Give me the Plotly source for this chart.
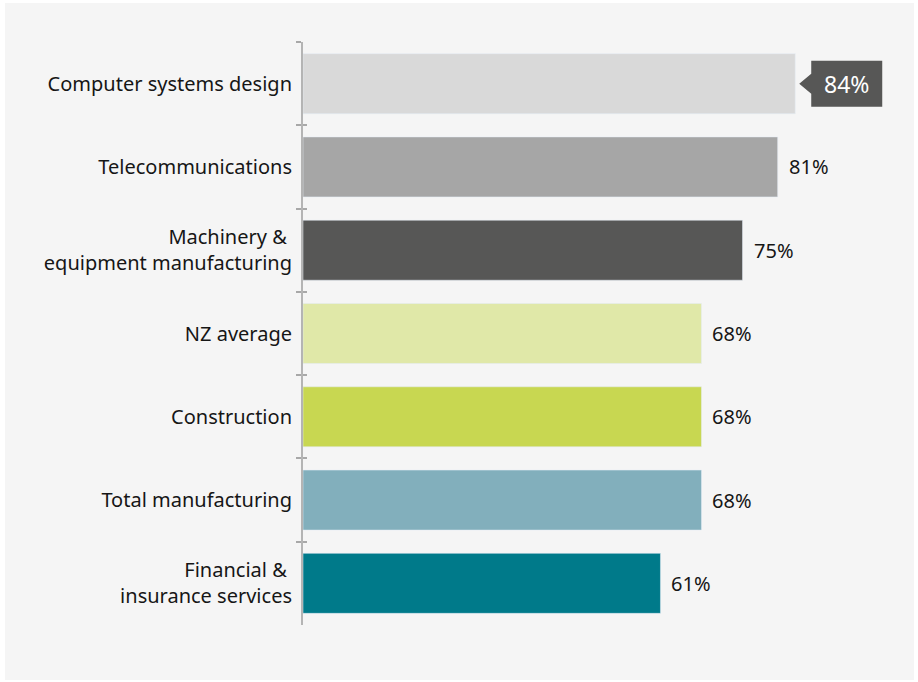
import plotly.graph_objects as go

categories = ["Computer systems design", "Telecommunications",
              "Machinery &\u00a0<br>equipment manufacturing", "NZ average",
              "Construction", "Total manufacturing",
              "Financial &\u00a0<br>insurance services"]
values = [84, 81, 75, 68, 68, 68, 61]
labels = ["84%", "81%", "75%", "68%", "68%", "68%", "61%"]
colors = ["#d9d9d9", "#a6a6a6", "#575756", "#e0e8a8", "#c8d751", "#82afbc", "#007a8a"]

W, H = 918, 682
L, R, T, B = 303, 29, 42, 57
pw, ph = W - L - R, H - T - B

fig = go.Figure()
fig.add_trace(go.Bar(y=categories, x=values, orientation="h",
                     marker=dict(color=colors, line=dict(width=0)),
                     hoverinfo="skip", showlegend=False))
# invisible trace on overlay axis to draw the inside half of the ticks
fig.add_trace(go.Bar(y=categories, x=values, orientation="h", yaxis="y2",
                     marker=dict(color="rgba(0,0,0,0)"), hoverinfo="skip",
                     showlegend=False))

font_main = "Noto Sans, Open Sans, sans-serif"

# value labels
for i, (c, v, t) in enumerate(zip(categories, values, labels)):
    if i == 0:
        continue
    fig.add_annotation(x=v, y=c, text=t, showarrow=False, xanchor="left",
                       xshift=9, font=dict(size=20, color="#161616", family=font_main))

# callout for the top bar
c0, v0 = categories[0], values[0]
fig.add_shape(type="path", xref="x", yref="y", xsizemode="pixel", ysizemode="pixel",
              xanchor=v0, yanchor=c0,
              path="M 4 0 L 16 10 L 16 23 L 87 23 L 87 -23 L 16 -23 L 16 -10 Z",
              fillcolor="#575756", line=dict(width=0), layer="above")
fig.add_annotation(x=v0, y=c0, text=labels[0], showarrow=False, xanchor="center",
                   xshift=51, font=dict(size=23, color="#ffffff", family=font_main))

# background panel
fig.add_shape(type="rect", xref="paper", yref="paper", layer="below",
              x0=(5 - L) / pw, x1=(914 - L) / pw,
              y0=(H - B - 680) / ph, y1=(H - B - 3) / ph,
              fillcolor="#f5f5f5", line=dict(width=0))

fig.update_layout(
    width=W, height=H,
    margin=dict(l=L, r=R, t=T, b=B, pad=0),
    paper_bgcolor="#ffffff", plot_bgcolor="rgba(0,0,0,0)",
    bargap=0.28,
    font=dict(family=font_main, size=20, color="#161616"),
    xaxis=dict(range=[0, 100], visible=False, fixedrange=True),
    yaxis=dict(type="category", categoryorder="array", categoryarray=categories,
               range=[6.5, -0.5], tickson="boundaries", ticks="outside",
               ticklen=5, tickwidth=2, tickcolor="#a8a8a8",
               showline=True, linecolor="#b4b4b4", linewidth=2,
               showgrid=False, zeroline=False, ticklabelstandoff=5,
               tickfont=dict(size=20, color="#161616", family=font_main)),
    yaxis2=dict(type="category", categoryorder="array", categoryarray=categories,
                range=[6.5, -0.5], overlaying="y", side="left", tickson="boundaries",
                ticks="inside", ticklen=4, tickwidth=2, tickcolor="#a8a8a8",
                showticklabels=False, showline=False, showgrid=False, zeroline=False),
)

fig.write_html("out.html")
